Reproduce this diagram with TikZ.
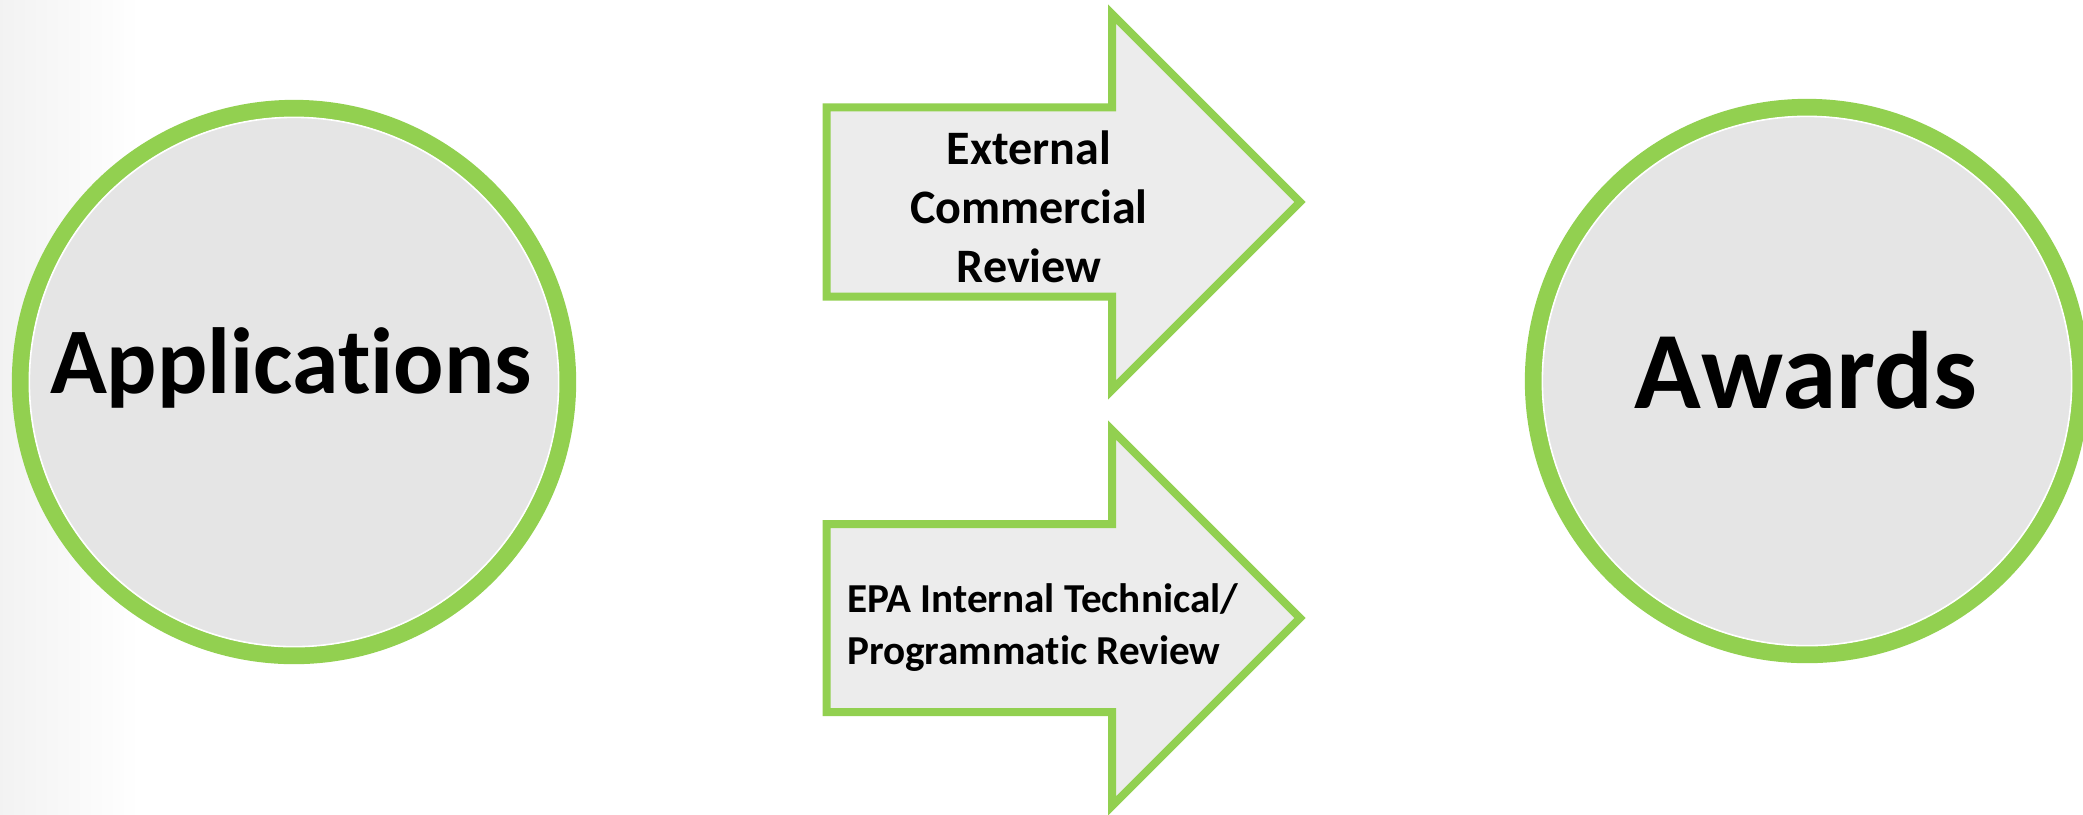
\documentclass[tikz,border=0pt]{standalone}
\usepackage{fontspec}
\setmainfont[Ligatures={NoCommon}, RawFeature={-liga;-dlig;-clig}]{Carlito}
\usetikzlibrary{shapes.geometric}
\definecolor{grn}{HTML}{92D050}
\definecolor{circfill}{HTML}{E5E5E5}
\definecolor{arrfill}{HTML}{ECECEC}
\tikzset{
  bigcirc/.style={circle, draw=grn, line width=4.84pt, fill=circfill, minimum size=5.47cm, inner sep=0pt, outer sep=0pt},
  arrowshape/.style={draw=grn, fill=arrfill, line width=2.28pt, miter limit=10},
  bigtext/.style={font=\bfseries\fontsize{#1}{40}\selectfont, anchor=base, inner sep=0pt},
}
\begin{document}
\begin{tikzpicture}[x=0.01cm,y=-0.01cm]
\useasboundingbox (0,0) rectangle (2083,814);
\clip (0,0) rectangle (2083,814);
\shade[left color=black!5, right color=white] (0,0) rectangle (140,814);
% circles
\node[bigcirc] (apps) at (294,382) {};
\draw[white, line width=0.45pt] (apps.center) circle[radius=2.645cm];
\node[bigtext=26.7] (appstext) at (291,393) {Applications};
\node[bigcirc] (awards) at (1807,381) {};
\draw[white, line width=0.45pt] (awards.center) circle[radius=2.645cm];
\node[bigtext=31.3] (awardstext) at (1806,408) {Awards};
% upper arrow
\draw[arrowshape] (826.7,107.3) -- (1112,107.3) -- (1112,14) -- (1300,202) -- (1112,390) -- (1112,296.7) -- (826.7,296.7) -- cycle;
\node[font=\bfseries\fontsize{13.66}{16.8}\selectfont, align=center, inner sep=0pt] (ecr) at (1029,207) {External\\Commercial\\Review};
% lower arrow
\draw[arrowshape] (826.7,524) -- (1112,524) -- (1112,430) -- (1300,618) -- (1112,806) -- (1112,712) -- (826.7,712) -- cycle;
\node[font=\bfseries\fontsize{11.7}{14.8}\selectfont, align=left, anchor=west, inner sep=0pt] (epa) at (846.5,628) {EPA Internal Technical/\\Programmatic Review};
\end{tikzpicture}
\end{document}
